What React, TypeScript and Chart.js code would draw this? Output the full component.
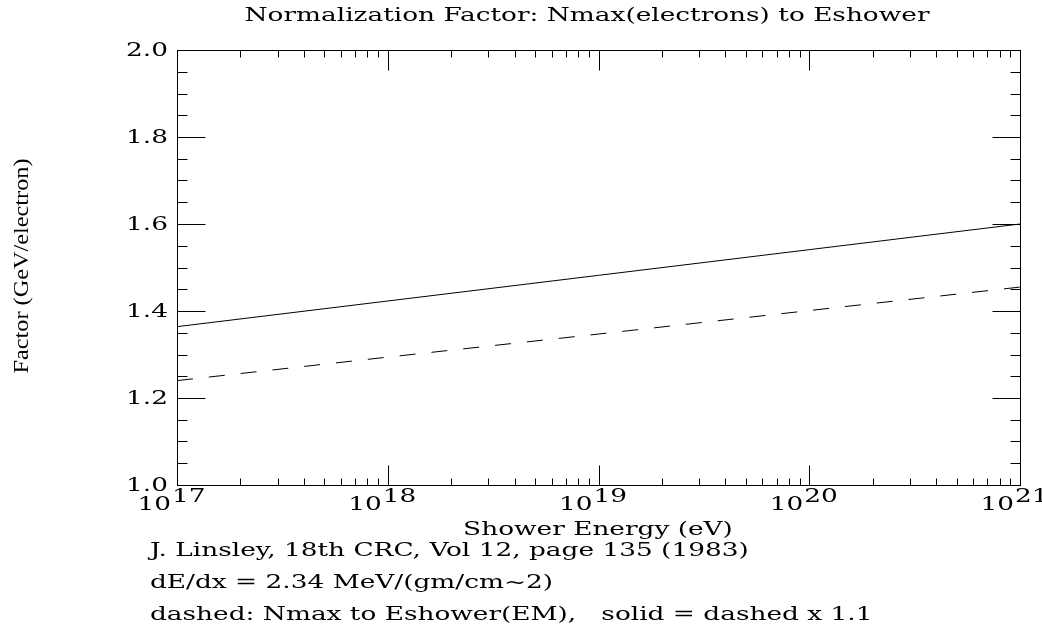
import React, { useEffect, useRef } from "react";
import { Chart, registerables } from "chart.js";

Chart.register(...registerables);

// Shower energies (eV) at which the factor is tabulated
const energies = [1e17, 1e18, 1e19, 1e20, 1e21];
// Nmax -> Eshower(EM) conversion factor (GeV/electron)
const dashedFactor = [1.24, 1.294, 1.347, 1.401, 1.455];
// Total shower factor: dashed x 1.1
const solidFactor = [1.364, 1.423, 1.482, 1.541, 1.6];

// Axis tick values
const yMajorTicks = [1.0, 1.2, 1.4, 1.6, 1.8, 2.0];
const yTickLabels = ["1.0", "1.2", "1.4", "1.6", "1.8", "2.0"];
const xDecadeExponents = ["17", "18", "19", "20", "21"];

const titleText = "Normalization Factor: Nmax(electrons) to Eshower";
const xTitleText = "Shower Energy (eV)";
const yTitleText = "Factor (GeV/electron)";
const noteLines = [
  "J. Linsley, 18th CRC, Vol 12, page 135 (1983)",
  "dE/dx = 2.34 MeV/(gm/cm~2)",
  "dashed: Nmax to Eshower(EM),   solid = dashed x 1.1",
];

const FONT = '18px "DejaVu Serif"';

const framePlugin = {
  id: "frameAndText",
  afterDraw(chart: any) {
    const ctx: CanvasRenderingContext2D = chart.ctx;
    const { left, right, top, bottom } = chart.chartArea;
    const xs = chart.scales.x;
    const ys = chart.scales.y;

    ctx.save();
    ctx.strokeStyle = "#000";
    ctx.fillStyle = "#000";
    ctx.lineWidth = 1;

    const L = Math.round(left) + 0.5;
    const R = Math.round(right) + 0.5;
    const T = Math.round(top) + 0.5;
    const B = Math.round(bottom) + 0.5;

    // frame
    ctx.strokeRect(L, T, R - L, B - T);

    const line = (x1: number, y1: number, x2: number, y2: number) => {
      ctx.beginPath();
      ctx.moveTo(x1, y1);
      ctx.lineTo(x2, y2);
      ctx.stroke();
    };

    // y ticks: major every 0.2, minor every 0.05
    for (let i = 0; i <= 20; i++) {
      const v = 1 + i * 0.05;
      const y = Math.round(ys.getPixelForValue(v)) + 0.5;
      const major = i % 4 === 0;
      const len = major ? 28 : 10;
      line(L, y, L + len, y);
      line(R, y, R - len, y);
    }

    // x ticks: decades (major) and 2..9 (minor)
    for (let e = 17; e <= 21; e++) {
      const xMaj = Math.round(xs.getPixelForValue(Math.pow(10, e))) + 0.5;
      line(xMaj, B, xMaj, B - 20);
      line(xMaj, T, xMaj, T + 20);
      if (e < 21) {
        for (let m = 2; m <= 9; m++) {
          const x = Math.round(xs.getPixelForValue(m * Math.pow(10, e))) + 0.5;
          line(x, B, x, B - 7);
          line(x, T, x, T + 7);
        }
      }
    }

    // text helpers, horizontally stretched to a common width factor
    ctx.font = FONT;
    const sx = 685 / ctx.measureText(titleText).width;
    const text = (
      s: string,
      x: number,
      y: number,
      align: CanvasTextAlign,
      base: CanvasTextBaseline = "middle"
    ) => {
      ctx.save();
      ctx.translate(x, y);
      ctx.scale(sx, 1);
      ctx.textAlign = align;
      ctx.textBaseline = base;
      ctx.fillText(s, 0, 0);
      ctx.restore();
    };
    const width = (s: string) => ctx.measureText(s).width * sx;

    // title
    text(titleText, 587, 16, "center");

    // y tick labels
    yMajorTicks.forEach((v, i) => {
      text(yTickLabels[i], 168, ys.getPixelForValue(v) + 1, "right");
    });

    // x tick labels: 10 with superscript exponent
    xDecadeExponents.forEach((ex) => {
      const xt = xs.getPixelForValue(Math.pow(10, Number(ex)));
      const wBase = width("10");
      const wExp = width(ex);
      const start = xt - 6 - (wBase + wExp) / 2;
      text("10", start, 510, "left", "alphabetic");
      text(ex, start + wBase + 1, 502, "left", "alphabetic");
    });

    // x axis title
    text(xTitleText, 598, 530, "center");

    // notes
    noteLines.forEach((s, i) => {
      text(s, 150, 551 + i * 32, "left");
    });

    // y axis title (rotated)
    ctx.save();
    ctx.translate(22, 266);
    ctx.rotate(-Math.PI / 2);
    ctx.font = '21px "Liberation Serif"';
    const yw = ctx.measureText(yTitleText).width;
    ctx.scale(215 / yw, 1);
    ctx.textAlign = "center";
    ctx.textBaseline = "middle";
    ctx.fillText(yTitleText, 0, 0);
    ctx.restore();

    ctx.restore();
  },
};

export default function App() {
  const canvasRef = useRef<HTMLCanvasElement | null>(null);

  useEffect(() => {
    const canvas = canvasRef.current;
    if (!canvas) return;
    const chart = new Chart(canvas, {
      type: "line",
      data: {
        datasets: [
          {
            label: "solid",
            data: energies.map((e, i) => ({ x: e, y: solidFactor[i] })),
            borderColor: "#000",
            borderWidth: 1,
            pointRadius: 0,
            fill: false,
          },
          {
            label: "dashed",
            data: energies.map((e, i) => ({ x: e, y: dashedFactor[i] })),
            borderColor: "#000",
            borderWidth: 1,
            borderDash: [16, 16],
            pointRadius: 0,
            fill: false,
          },
        ],
      },
      options: {
        responsive: false,
        animation: false,
        devicePixelRatio: 1,
        layout: { padding: { left: 177, right: 22, top: 50, bottom: 147 } },
        plugins: {
          legend: { display: false },
          tooltip: { enabled: false },
          title: { display: false },
        },
        scales: {
          x: {
            type: "logarithmic",
            min: 1e17,
            max: 1e21,
            display: false,
          },
          y: {
            type: "linear",
            min: 1,
            max: 2,
            display: false,
          },
        },
      },
      plugins: [framePlugin],
    });
    return () => chart.destroy();
  }, []);

  return (
    <div
      style={{
        position: "absolute",
        left: 0,
        top: 0,
        width: 1042,
        height: 632,
        background: "#fff",
      }}
    >
      <canvas ref={canvasRef} width={1042} height={632} />
    </div>
  );
}
